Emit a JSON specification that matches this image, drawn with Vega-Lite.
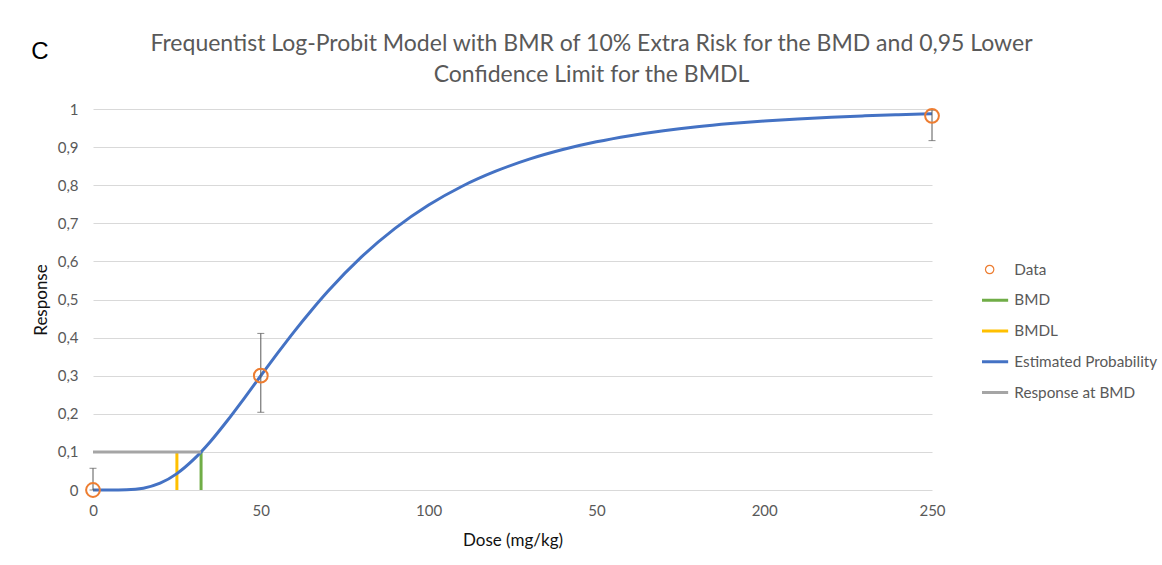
{
  "$schema": "https://vega.github.io/schema/vega-lite/v6.json",
  "width": 839,
  "height": 381,
  "autosize": {"type": "none"},
  "padding": {"left": 93, "top": 109, "right": 230, "bottom": 75},
  "background": "white",
  "title": {
    "text": ["Frequentist Log-Probit Model with BMR of 10% Extra Risk for the BMD and 0,95 Lower", "Confidence Limit for the BMDL"],
    "anchor": "middle",
    "frame": "group",
    "dx": 79,
    "offset": -47,
    "font": "Lato",
    "fontSize": 23,
    "fontWeight": "normal",
    "color": "#595959",
    "lineHeight": 31
  },
  "datasets": {
    "lines": [
      {"series": "BMD", "dose": 32.2, "resp": 0},
      {"series": "BMD", "dose": 32.2, "resp": 0.1},
      {"series": "BMDL", "dose": 25.0, "resp": 0},
      {"series": "BMDL", "dose": 25.0, "resp": 0.1},
      {"series": "Estimated Probability", "dose": 0, "resp": 0},
      {"series": "Estimated Probability", "dose": 5, "resp": 0.0000},
      {"series": "Estimated Probability", "dose": 10, "resp": 0.0005},
      {"series": "Estimated Probability", "dose": 15, "resp": 0.0047},
      {"series": "Estimated Probability", "dose": 20, "resp": 0.0178},
      {"series": "Estimated Probability", "dose": 25, "resp": 0.0430},
      {"series": "Estimated Probability", "dose": 30, "resp": 0.0802},
      {"series": "Estimated Probability", "dose": 35, "resp": 0.1274},
      {"series": "Estimated Probability", "dose": 40, "resp": 0.1817},
      {"series": "Estimated Probability", "dose": 45, "resp": 0.2401},
      {"series": "Estimated Probability", "dose": 50, "resp": 0.2999},
      {"series": "Estimated Probability", "dose": 55, "resp": 0.3590},
      {"series": "Estimated Probability", "dose": 60, "resp": 0.4164},
      {"series": "Estimated Probability", "dose": 65, "resp": 0.4705},
      {"series": "Estimated Probability", "dose": 70, "resp": 0.5215},
      {"series": "Estimated Probability", "dose": 80, "resp": 0.6118},
      {"series": "Estimated Probability", "dose": 90, "resp": 0.6866},
      {"series": "Estimated Probability", "dose": 100, "resp": 0.7479},
      {"series": "Estimated Probability", "dose": 110, "resp": 0.7973},
      {"series": "Estimated Probability", "dose": 120, "resp": 0.8367},
      {"series": "Estimated Probability", "dose": 130, "resp": 0.8684},
      {"series": "Estimated Probability", "dose": 140, "resp": 0.8936},
      {"series": "Estimated Probability", "dose": 150, "resp": 0.9139},
      {"series": "Estimated Probability", "dose": 160, "resp": 0.9300},
      {"series": "Estimated Probability", "dose": 170, "resp": 0.9430},
      {"series": "Estimated Probability", "dose": 180, "resp": 0.9534},
      {"series": "Estimated Probability", "dose": 190, "resp": 0.9617},
      {"series": "Estimated Probability", "dose": 200, "resp": 0.9685},
      {"series": "Estimated Probability", "dose": 210, "resp": 0.9740},
      {"series": "Estimated Probability", "dose": 220, "resp": 0.9785},
      {"series": "Estimated Probability", "dose": 230, "resp": 0.9821},
      {"series": "Estimated Probability", "dose": 240, "resp": 0.9851},
      {"series": "Estimated Probability", "dose": 250, "resp": 0.9876},
      {"series": "Response at BMD", "dose": 0, "resp": 0.1},
      {"series": "Response at BMD", "dose": 32.2, "resp": 0.1}
    ],
    "obs": [
      {"series": "Data", "dose": 0, "resp": 0, "lo": 0, "hi": 0.057},
      {"series": "Data", "dose": 50, "resp": 0.3, "lo": 0.204, "hi": 0.411},
      {"series": "Data", "dose": 250, "resp": 0.982, "lo": 0.917, "hi": 0.997}
    ],
    "panel": [
      {"label": "C", "dose": -15.8, "resp": 1.15}
    ]
  },
  "layer": [
    {
      "data": {"name": "lines"},
      "mark": {"type": "line", "strokeWidth": 3, "interpolate": "monotone"},
      "encoding": {
        "x": {"field": "dose", "type": "quantitative", "title": "Dose (mg/kg)",
          "scale": {"domain": [0, 250], "nice": false},
          "axis": {"values": [0, 50, 100, 150, 200, 250], "labelExpr": "datum.value == 150 ? '50' : datum.label", "labelFlush": false, "labelOverlap": false, "grid": false, "domain": false, "ticks": false, "labelPadding": 13, "titlePadding": 14}},
        "y": {"field": "resp", "type": "quantitative", "title": "Response",
          "scale": {"domain": [0, 1], "nice": false},
          "axis": {"values": [0, 0.1, 0.2, 0.3, 0.4, 0.5, 0.6, 0.7, 0.8, 0.9, 1], "tickCount": 11, "labelExpr": "replace(format(datum.value, '~g'), '.', ',')", "labelOverlap": false, "labelFlush": false, "grid": true, "domain": false, "ticks": false, "labelPadding": 15, "titlePadding": 7}},
        "color": {"field": "series", "type": "nominal",
          "scale": {"domain": ["Data", "BMD", "BMDL", "Estimated Probability", "Response at BMD"], "range": ["#ED7D31", "#70AD47", "#FFC000", "#4472C4", "#A5A5A5"]},
          "legend": {
            "orient": "none", "legendX": 889, "legendY": 146,
            "title": null,
            "labelFont": "Lato", "labelFontSize": 15.3, "labelColor": "#595959", "labelOffset": 17,
            "clipHeight": 29, "rowPadding": 1.75,
            "encode": {"symbols": {"update": {
              "shape": {"signal": "datum.value === 'Data' ? 'circle' : 'stroke'"},
              "size": {"signal": "datum.value === 'Data' ? 70 : 1369"},
              "strokeWidth": {"signal": "datum.value === 'Data' ? 1.2 : 3"},
              "fill": {"value": "transparent"},
              "opacity": {"value": 1}
            }}}
          }}
      }
    },
    {
      "data": {"name": "obs"},
      "mark": {"type": "errorbar", "ticks": {"size": 7, "color": "#595959"}, "rule": {"color": "#595959", "strokeWidth": 1}},
      "encoding": {
        "x": {"field": "dose", "type": "quantitative", "title": "Dose (mg/kg)",
          "axis": {"values": [0, 50, 100, 150, 200, 250], "labelExpr": "datum.value == 150 ? '50' : datum.label", "labelFlush": false, "labelOverlap": false, "grid": false, "domain": false, "ticks": false, "labelPadding": 13, "titlePadding": 14}},
        "y": {"field": "lo", "type": "quantitative", "title": "Response",
          "axis": {"values": [0, 0.1, 0.2, 0.3, 0.4, 0.5, 0.6, 0.7, 0.8, 0.9, 1], "tickCount": 11, "labelExpr": "replace(format(datum.value, '~g'), '.', ',')", "labelOverlap": false, "labelFlush": false, "grid": true, "domain": false, "ticks": false, "labelPadding": 15, "titlePadding": 7}},
        "y2": {"field": "hi"}
      }
    },
    {
      "data": {"name": "obs"},
      "mark": {"type": "point", "shape": "circle", "filled": false, "size": 190, "strokeWidth": 2, "opacity": 1},
      "encoding": {
        "x": {"field": "dose", "type": "quantitative", "title": "Dose (mg/kg)",
          "axis": {"values": [0, 50, 100, 150, 200, 250], "labelExpr": "datum.value == 150 ? '50' : datum.label", "labelFlush": false, "labelOverlap": false, "grid": false, "domain": false, "ticks": false, "labelPadding": 13, "titlePadding": 14}},
        "y": {"field": "resp", "type": "quantitative", "title": "Response",
          "axis": {"values": [0, 0.1, 0.2, 0.3, 0.4, 0.5, 0.6, 0.7, 0.8, 0.9, 1], "tickCount": 11, "labelExpr": "replace(format(datum.value, '~g'), '.', ',')", "labelOverlap": false, "labelFlush": false, "grid": true, "domain": false, "ticks": false, "labelPadding": 15, "titlePadding": 7}},
        "color": {"field": "series", "type": "nominal"}
      }
    },
    {
      "data": {"name": "panel"},
      "mark": {"type": "text", "font": "Liberation Sans", "fontSize": 24, "color": "#000000", "align": "center", "baseline": "middle"},
      "encoding": {
        "x": {"field": "dose", "type": "quantitative", "title": "Dose (mg/kg)",
          "axis": {"values": [0, 50, 100, 150, 200, 250], "labelExpr": "datum.value == 150 ? '50' : datum.label", "labelFlush": false, "labelOverlap": false, "grid": false, "domain": false, "ticks": false, "labelPadding": 13, "titlePadding": 14}},
        "y": {"field": "resp", "type": "quantitative", "title": "Response",
          "axis": {"values": [0, 0.1, 0.2, 0.3, 0.4, 0.5, 0.6, 0.7, 0.8, 0.9, 1], "tickCount": 11, "labelExpr": "replace(format(datum.value, '~g'), '.', ',')", "labelOverlap": false, "labelFlush": false, "grid": true, "domain": false, "ticks": false, "labelPadding": 15, "titlePadding": 7}},
        "text": {"field": "label"}
      }
    }
  ],
  "config": {
    "view": {"stroke": null},
    "axis": {
      "labelFont": "Lato", "labelFontSize": 15, "labelColor": "#595959",
      "titleFont": "Lato", "titleFontSize": 17, "titleFontWeight": "normal", "titleColor": "#111111",
      "gridColor": "#D9D9D9", "gridWidth": 1
    }
  }
}
